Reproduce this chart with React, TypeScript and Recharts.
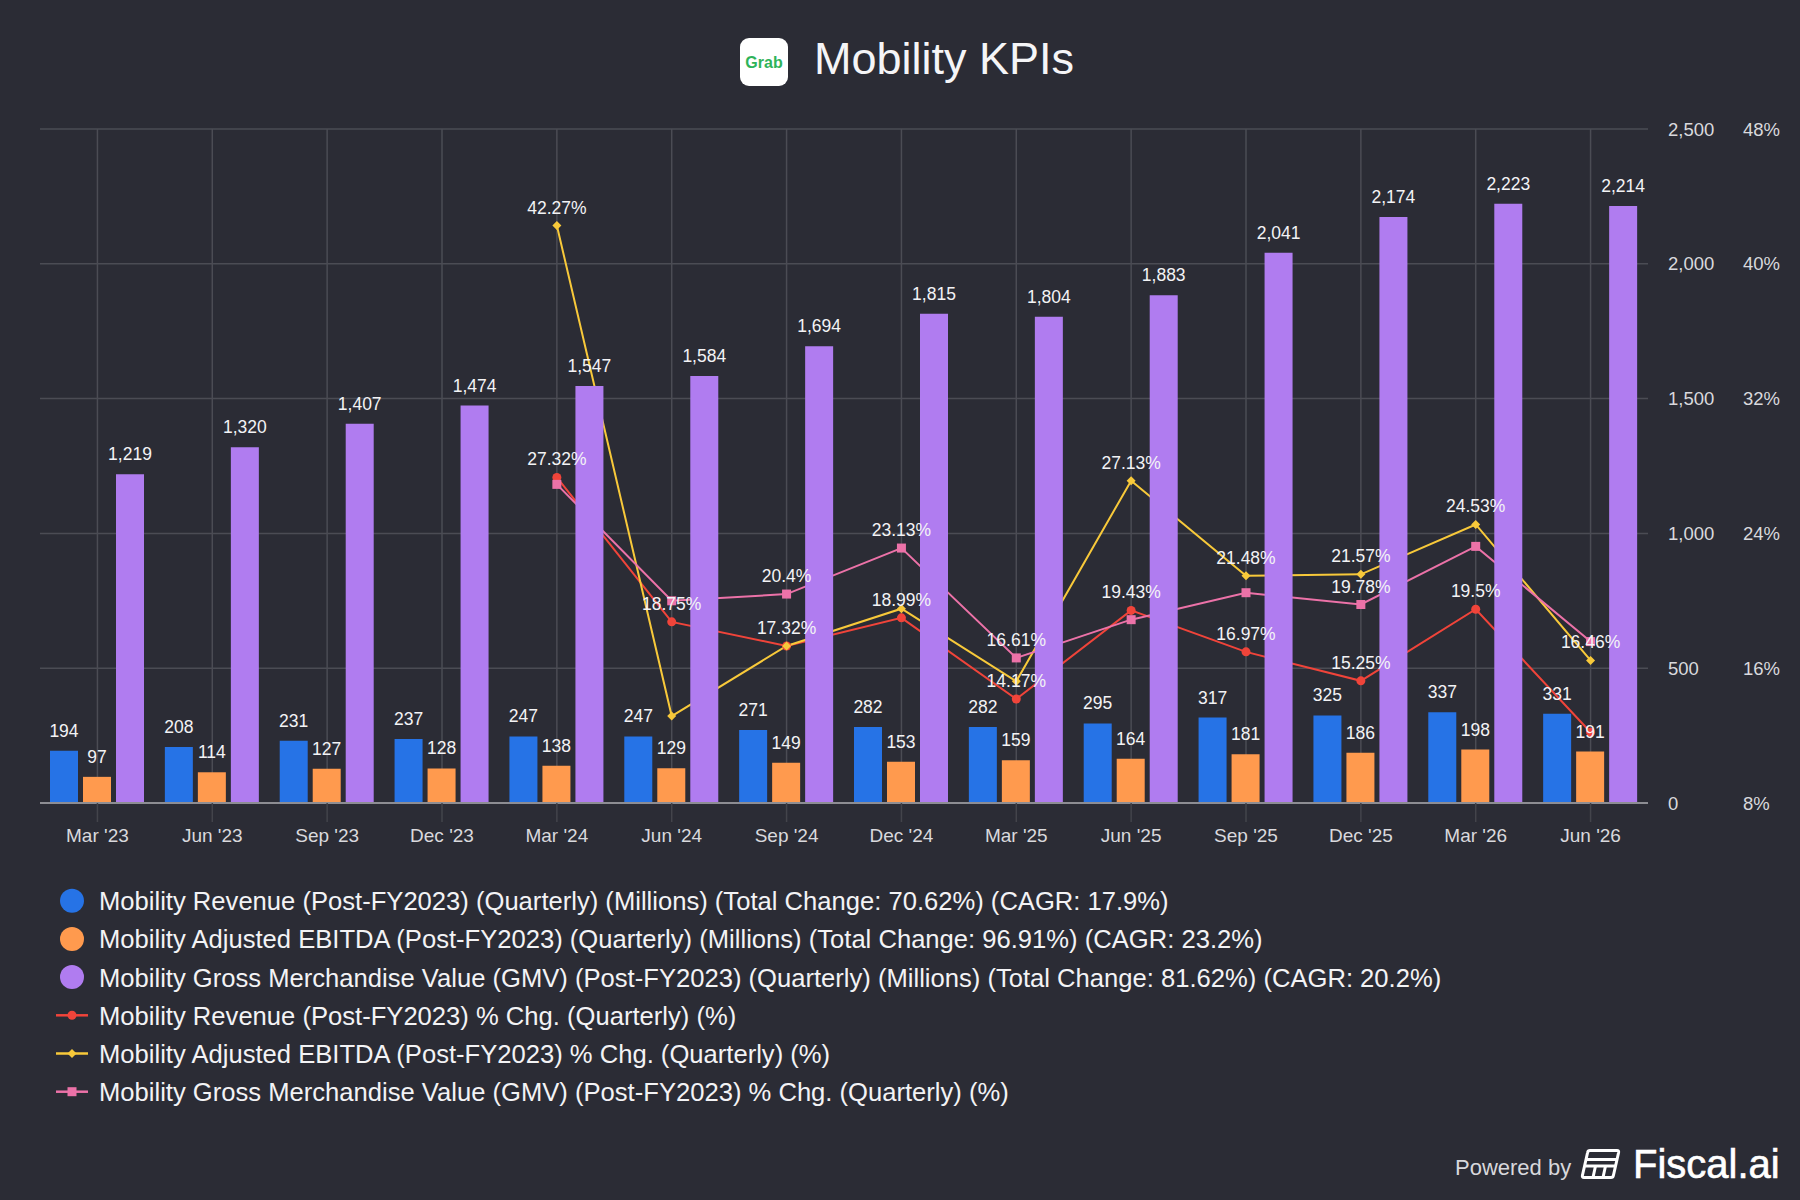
import React from "react";
import { Bar, CartesianGrid, ComposedChart, LabelList, Line, XAxis, YAxis } from "recharts";

const quarters = [
  "Mar '23", "Jun '23", "Sep '23", "Dec '23", "Mar '24", "Jun '24", "Sep '24",
  "Dec '24", "Mar '25", "Jun '25", "Sep '25", "Dec '25", "Mar '26", "Jun '26",
];
const revenue = [194, 208, 231, 237, 247, 247, 271, 282, 282, 295, 317, 325, 337, 331];
const ebitda = [97, 114, 127, 128, 138, 129, 149, 153, 159, 164, 181, 186, 198, 191];
const gmv = [1219, 1320, 1407, 1474, 1547, 1584, 1694, 1815, 1804, 1883, 2041, 2174, 2223, 2214];
const revenueChg = [null, null, null, null, 27.32, 18.75, 17.32, 18.99, 14.17, 19.43, 16.97, 15.25, 19.5, 12.2];
const ebitdaChg = [null, null, null, null, 42.27, 13.16, 17.32, 19.53, 15.22, 27.13, 21.48, 21.57, 24.53, 16.46];
const gmvChg = [null, null, null, null, 26.91, 20.0, 20.4, 23.13, 16.61, 18.88, 20.48, 19.78, 23.23, 17.58];

// quarters where the original shows a value label on each % line
const revenueChgLabelled = ["Mar '24", "Jun '24", "Sep '24", "Dec '24", "Mar '25", "Jun '25", "Sep '25", "Dec '25", "Mar '26"];
const ebitdaChgLabelled = ["Mar '24", "Jun '25", "Sep '25", "Dec '25", "Mar '26", "Jun '26"];
const gmvChgLabelled = ["Sep '24", "Dec '24", "Mar '25", "Dec '25"];

const amountTicks = [0, 500, 1000, 1500, 2000, 2500];
const pctTicks = [8, 16, 24, 32, 40, 48];

const legendItems = [
  { kind: "bar", color: "#2673e6", text: "Mobility Revenue (Post-FY2023) (Quarterly) (Millions) (Total Change: 70.62%) (CAGR: 17.9%)" },
  { kind: "bar", color: "#ff9a4e", text: "Mobility Adjusted EBITDA (Post-FY2023) (Quarterly) (Millions) (Total Change: 96.91%) (CAGR: 23.2%)" },
  { kind: "bar", color: "#b07cf0", text: "Mobility Gross Merchandise Value (GMV) (Post-FY2023) (Quarterly) (Millions) (Total Change: 81.62%) (CAGR: 20.2%)" },
  { kind: "circle", color: "#f0443a", text: "Mobility Revenue (Post-FY2023) % Chg. (Quarterly) (%)" },
  { kind: "diamond", color: "#f8c93a", text: "Mobility Adjusted EBITDA (Post-FY2023) % Chg. (Quarterly) (%)" },
  { kind: "square", color: "#ec72a8", text: "Mobility Gross Merchandise Value (GMV) (Post-FY2023) % Chg. (Quarterly) (%)" },
];

const BG = "#2b2c35";
const FONT = "'Liberation Sans', Arial, sans-serif";

const rows = quarters.map((q, i) => ({
  q,
  revenue: revenue[i],
  ebitda: ebitda[i],
  gmv: gmv[i],
  revenueChg: revenueChg[i],
  ebitdaChg: ebitdaChg[i],
  gmvChg: gmvChg[i],
  revenueChgLabel: revenueChgLabelled.includes(q) ? revenueChg[i] : null,
  ebitdaChgLabel: ebitdaChgLabelled.includes(q) ? ebitdaChg[i] : null,
  gmvChgLabel: gmvChgLabelled.includes(q) ? gmvChg[i] : null,
}));

const fmtAmount = (v: number) => v.toLocaleString("en-US");
const fmtPct = (v: any) => (v == null ? "" : `${v}%`);

function Marker({ kind, x, y, color }: { kind: string; x: number; y: number; color: string }) {
  if (kind === "circle") return <circle cx={x} cy={y} r={4.5} fill={color} />;
  if (kind === "diamond")
    return <path d={`M${x},${y - 4.5}L${x + 4.5},${y}L${x},${y + 4.5}L${x - 4.5},${y}Z`} fill={color} />;
  return <rect x={x - 4.5} y={y - 4.5} width={9} height={9} fill={color} />;
}

const dotFor = (kind: string, color: string) => (props: any) => {
  const { cx, cy, index } = props;
  if (cx == null || cy == null || props.value == null) return <g key={`d-${kind}-${index}`} />;
  return (
    <g key={`d-${kind}-${index}`}>
      <Marker kind={kind} x={cx} y={cy} color={color} />
    </g>
  );
};

const lineLabel = { fill: "#f3f3f5", fontSize: 17.5 };
const barLabel = { fill: "#f3f3f5", fontSize: 17.5 };

export default function App() {
  return (
    <div style={{ position: "absolute", left: 0, top: 0, width: 1800, height: 1200, background: BG, fontFamily: FONT, overflow: "hidden" }}>
      <div style={{ position: "absolute", left: 0, top: 0 }}>
        <ComposedChart
          width={1800}
          height={850}
          data={rows}
          margin={{ top: 129, right: 0, bottom: 7, left: 40 }}
          barSize={28}
          barGap={5}
        >
          <CartesianGrid yAxisId="amt" stroke="#4b4c54" strokeWidth={1.5} syncWithTicks />
          <XAxis
            dataKey="q"
            height={40}
            interval={0}
            tickSize={19}
            tickMargin={7}
            tick={{ fill: "#d9d9dd", fontSize: 19 }}
            tickLine={{ stroke: "#43444b", strokeWidth: 1.5 }}
            axisLine={{ stroke: "#8d8d93", strokeWidth: 2 }}
          />
          <YAxis
            yAxisId="amt"
            orientation="right"
            width={80}
            domain={[0, 2500]}
            ticks={amountTicks}
            tickFormatter={fmtAmount}
            axisLine={false}
            tickLine={false}
            tickSize={0}
            tickMargin={20}
            tick={{ fill: "#d9d9dd", fontSize: 18.5 }}
          />
          <YAxis
            yAxisId="pct"
            orientation="right"
            width={72}
            domain={[8, 48]}
            ticks={pctTicks}
            tickFormatter={(v: number) => `${v}%`}
            axisLine={false}
            tickLine={false}
            tickSize={0}
            tickMargin={15}
            tick={{ fill: "#d9d9dd", fontSize: 18.5 }}
          />
          <Line
            yAxisId="pct"
            dataKey="revenueChg"
            type="linear"
            stroke="#f0443a"
            strokeWidth={2}
            dot={dotFor("circle", "#f0443a")}
            activeDot={false}
            isAnimationActive={false}
            zIndex={250}
          >
            <LabelList dataKey="revenueChgLabel" position="top" offset={12} formatter={fmtPct} {...lineLabel} />
          </Line>
          <Line
            yAxisId="pct"
            dataKey="ebitdaChg"
            type="linear"
            stroke="#f8c93a"
            strokeWidth={2}
            dot={dotFor("diamond", "#f8c93a")}
            activeDot={false}
            isAnimationActive={false}
            zIndex={250}
          >
            <LabelList dataKey="ebitdaChgLabel" position="top" offset={12} formatter={fmtPct} {...lineLabel} />
          </Line>
          <Line
            yAxisId="pct"
            dataKey="gmvChg"
            type="linear"
            stroke="#ec72a8"
            strokeWidth={2}
            dot={dotFor("square", "#ec72a8")}
            activeDot={false}
            isAnimationActive={false}
            zIndex={250}
          >
            <LabelList dataKey="gmvChgLabel" position="top" offset={12} formatter={fmtPct} {...lineLabel} />
          </Line>
          <Bar yAxisId="amt" dataKey="revenue" fill="#2673e6" isAnimationActive={false}>
            <LabelList dataKey="revenue" position="top" offset={14} formatter={fmtAmount} {...barLabel} />
          </Bar>
          <Bar yAxisId="amt" dataKey="ebitda" fill="#ff9a4e" isAnimationActive={false}>
            <LabelList dataKey="ebitda" position="top" offset={14} formatter={fmtAmount} {...barLabel} />
          </Bar>
          <Bar yAxisId="amt" dataKey="gmv" fill="#b07cf0" isAnimationActive={false}>
            <LabelList dataKey="gmv" position="top" offset={14} formatter={fmtAmount} {...barLabel} />
          </Bar>
        </ComposedChart>
      </div>

      <svg width={1800} height={1200} style={{ position: "absolute", left: 0, top: 0, pointerEvents: "none" }}>
        {/* title */}
        <rect x={740} y={38} width={48} height={48} rx={9} fill="#ffffff" />
        <text x={764} y={68.3} textAnchor="middle" fontSize={16} fontWeight={700} fill="#2fb35a">Grab</text>
        <text x={814} y={74} fontSize={45} fill="#f5f5f7">Mobility KPIs</text>

        {/* legend */}
        {legendItems.map((item, i) => {
          const cy = 900.7 + i * 38.2;
          return (
            <g key={item.text}>
              {item.kind === "bar" ? (
                <circle cx={72} cy={cy} r={12} fill={item.color} />
              ) : (
                <g>
                  <line x1={56} x2={88} y1={cy} y2={cy} stroke={item.color} strokeWidth={2.5} />
                  <Marker kind={item.kind} x={72} y={cy} color={item.color} />
                </g>
              )}
              <text x={99} y={cy + 9.4} fontSize={25.6} fill="#f3f3f5">{item.text}</text>
            </g>
          );
        })}

        {/* footer */}
        <text x={1455} y={1175} fontSize={22} fill="#d8d8dc">Powered by</text>
        <g fill="none" stroke="#ffffff" strokeWidth={3} strokeLinejoin="round">
          <path d="M1590,1150.5 L1617,1150.5 Q1619,1150.5 1618.6,1152.5 L1613.4,1175.5 Q1613,1177.5 1611,1177.5 L1584,1177.5 Q1582,1177.5 1582.4,1175.5 L1587.6,1152.5 Q1588,1150.5 1590,1150.5 Z" />
          <path d="M1586.5,1159.5 L1617,1159.5" />
          <path d="M1585.2,1166 L1615.6,1166" />
          <path d="M1595.5,1166 L1593,1177.5" />
          <path d="M1605.5,1166 L1603,1177.5" />
        </g>
        <text x={1633} y={1178} fontSize={40} fill="#ffffff" stroke="#ffffff" strokeWidth={0.6}>Fiscal.ai</text>
      </svg>
    </div>
  );
}
